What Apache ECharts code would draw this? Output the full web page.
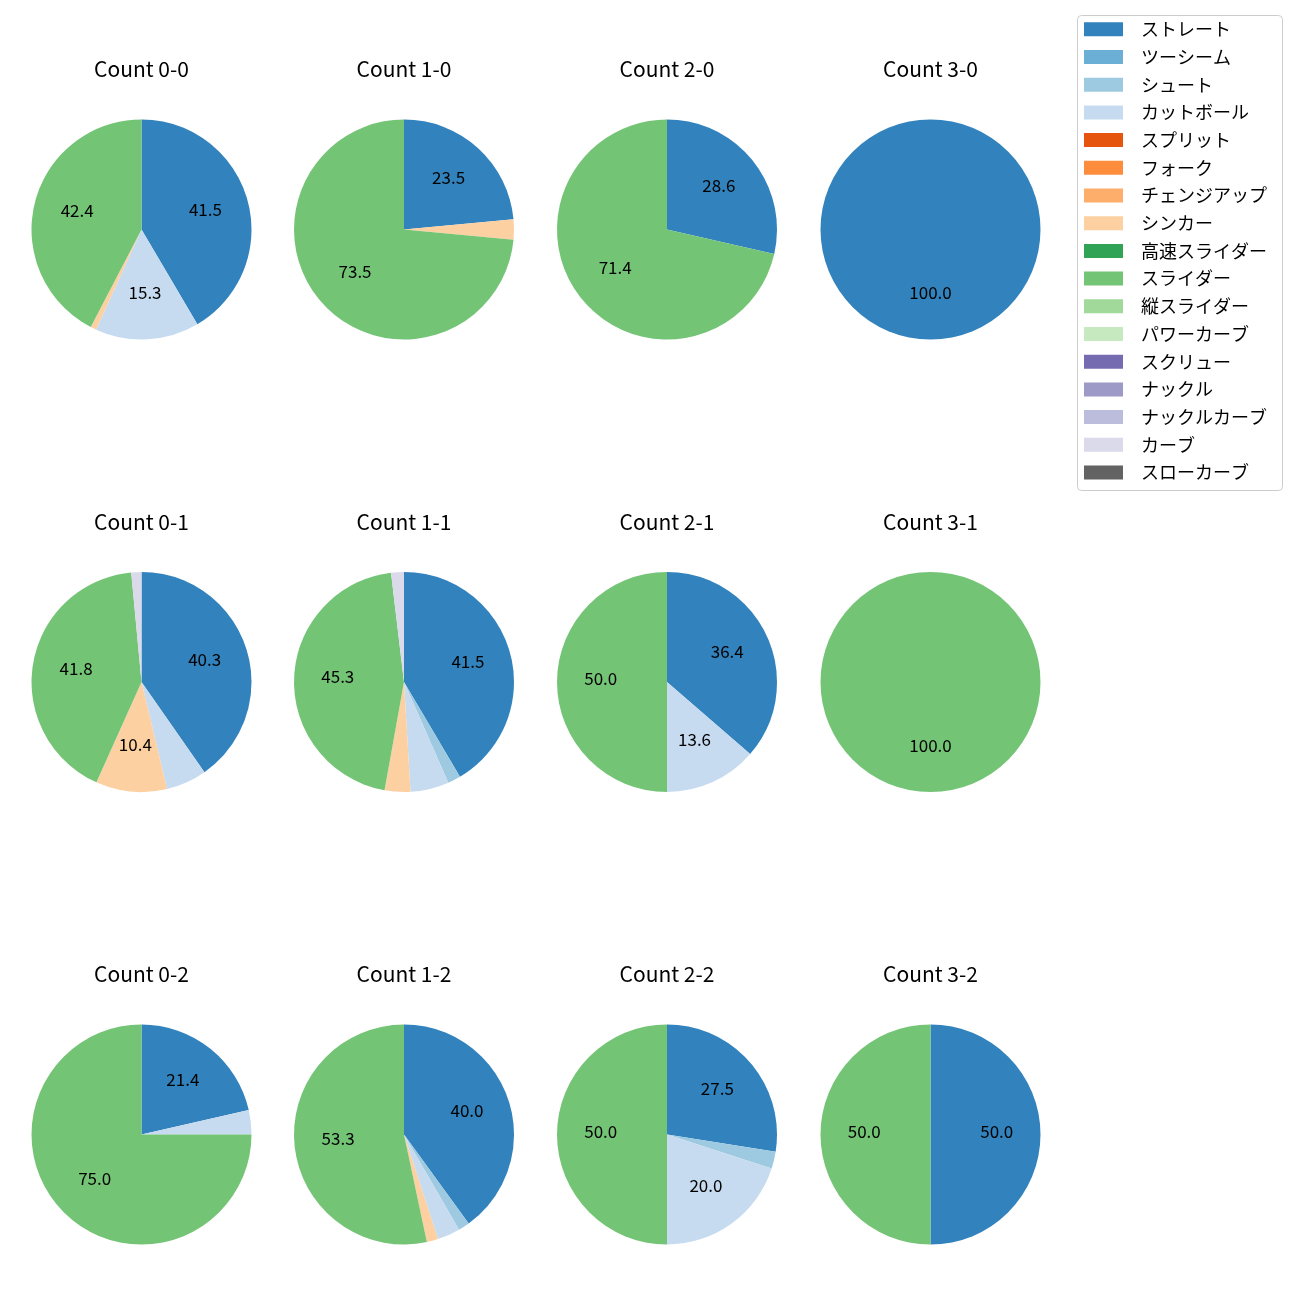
<!DOCTYPE html>
<html>
<head>
<meta charset="utf-8">
<script src="https://cdn.jsdelivr.net/npm/echarts@6/dist/echarts.min.js"></script>
<style>html,body{margin:0;padding:0;background:#fff}#c{width:1300px;height:1300px}</style>
</head>
<body>
<div id="c"></div>
<script>
const pitchTypes = ['ストレート','ツーシーム','シュート','カットボール','スプリット','フォーク','チェンジアップ','シンカー','高速スライダー','スライダー','縦スライダー','パワーカーブ','スクリュー','ナックル','ナックルカーブ','カーブ','スローカーブ'];
const pitchColors = ['#3182bd','#6baed6','#9ecae1','#c6dbef','#e6550d','#fd8d3c','#fdae6b','#fdd0a2','#31a354','#74c476','#a1d99b','#c7e9c0','#756bb1','#9e9ac8','#bcbddc','#dadaeb','#636363'];
const countTitles = ['Count 0-0','Count 1-0','Count 2-0','Count 3-0','Count 0-1','Count 1-1','Count 2-1','Count 3-1','Count 0-2','Count 1-2','Count 2-2','Count 3-2'];
// pitch counts per ball-strike count, in pitchTypes order
const count00 = [49,0,0,18,0,0,0,1,0,50,0,0,0,0,0,0,0];
const count10 = [8,0,0,0,0,0,0,1,0,25,0,0,0,0,0,0,0];
const count20 = [2,0,0,0,0,0,0,0,0,5,0,0,0,0,0,0,0];
const count30 = [3,0,0,0,0,0,0,0,0,0,0,0,0,0,0,0,0];
const count01 = [27,0,0,4,0,0,0,7,0,28,0,0,0,0,0,1,0];
const count11 = [22,0,1,3,0,0,0,2,0,24,0,0,0,0,0,1,0];
const count21 = [8,0,0,3,0,0,0,0,0,11,0,0,0,0,0,0,0];
const count31 = [0,0,0,0,0,0,0,0,0,2,0,0,0,0,0,0,0];
const count02 = [6,0,0,1,0,0,0,0,0,21,0,0,0,0,0,0,0];
const count12 = [24,0,1,2,0,0,0,1,0,32,0,0,0,0,0,0,0];
const count22 = [11,0,1,8,0,0,0,0,0,20,0,0,0,0,0,0,0];
const count32 = [1,0,0,0,0,0,0,0,0,1,0,0,0,0,0,0,0];
const allCounts = [count00,count10,count20,count30,count01,count11,count21,count31,count02,count12,count22,count32];

const colX = [141.5, 404, 667, 930.5];
const rowY = [229.5, 682, 1134.5];
const titleY = [69, 522, 974];
const R = 110;
const FONT = '"Noto Sans CJK JP", "Noto Sans", sans-serif';

const series = [];
const graphics = [{
  type: 'rect', z: 0, silent: true,
  shape: {x: 1077.5, y: 15.5, width: 205, height: 475, r: 4},
  style: {fill: 'rgba(255,255,255,0.8)', stroke: '#cccccc', lineWidth: 1}
}];

allCounts.forEach((arr, i) => {
  const cx = colX[i % 4], cy = rowY[Math.floor(i / 4)];
  const total = arr.reduce((a, b) => a + b, 0);
  const data = [];
  arr.forEach((v, k) => {
    if (v > 0) data.push({name: pitchTypes[k], value: v, itemStyle: {color: pitchColors[k]}});
  });
  series.push({
    type: 'pie', center: [cx, cy], radius: [0, R], startAngle: 90, clockwise: true,
    silent: true, animation: false, label: {show: false}, labelLine: {show: false},
    minShowLabelAngle: 0, avoidLabelOverlap: false,
    itemStyle: {borderWidth: 0},
    data: data
  });
  // label overlay: labels near 0.6 R from centre
  series.push({
    type: 'pie', center: [cx, cy], radius: [0.15 * R, R], startAngle: 90, clockwise: true,
    silent: true, animation: false, avoidLabelOverlap: false, labelLine: {show: false},
    legendHoverLink: false,
    itemStyle: {color: 'rgba(0,0,0,0)', borderWidth: 0},
    label: {
      show: true, position: 'inside', color: '#000', fontSize: 17, fontFamily: FONT,
      offset: [0, -3],
      formatter: p => {
        const pct = p.value / total * 100;
        return pct >= 10 ? pct.toFixed(1) : '';
      }
    },
    data: data.map(d => ({name: d.name, value: d.value, itemStyle: {color: 'rgba(0,0,0,0)'}}))
  });
  graphics.push({
    type: 'text', x: cx, y: titleY[Math.floor(i / 4)], silent: true,
    style: {text: countTitles[i], fill: '#000', font: '21px ' + FONT, textAlign: 'center', textVerticalAlign: 'middle'}
  });
});

// legend provider (invisible)
series.push({
  type: 'pie', center: [-100, -100], radius: [0, 0], silent: true, animation: false,
  label: {show: false}, labelLine: {show: false},
  data: pitchTypes.map((n, k) => ({name: n, value: 1, itemStyle: {color: pitchColors[k]}}))
});

const chart = echarts.init(document.getElementById('c'), null, {renderer: 'canvas'});
chart.setOption({
  animation: false,
  backgroundColor: '#fff',
  legend: {
    data: pitchTypes, orient: 'vertical', left: 1084, top: 20.3, padding: 0,
    itemWidth: 39, itemHeight: 14, itemGap: 9.7, icon: 'rect', selectedMode: false,
    textStyle: {fontSize: 18, fontFamily: FONT, color: '#000', padding: [0, 0, 0, 13]}
  },
  graphic: graphics,
  series: series
});
</script>
</body>
</html>
